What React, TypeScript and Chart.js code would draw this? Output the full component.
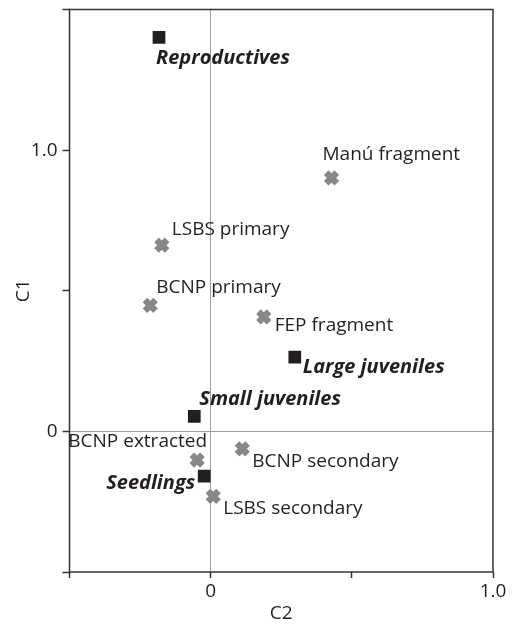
import React, { useEffect, useRef } from "react";
import { Chart, registerables } from "chart.js";

Chart.register(...registerables);

// Developmental stages (black squares)
const stageNames = ["Reproductives", "Large juveniles", "Small juveniles", "Seedlings"];
const stageC2 = [-0.183, 0.298, -0.058, -0.023];
const stageC1 = [1.401, 0.264, 0.053, -0.159];

// Sites (grey crosses)
const siteNames = [
  "Manú fragment",
  "LSBS primary",
  "BCNP primary",
  "FEP fragment",
  "BCNP extracted",
  "LSBS secondary",
  "BCNP secondary",
];
const siteC2 = [0.428, -0.173, -0.214, 0.188, -0.048, 0.009, 0.112];
const siteC1 = [0.901, 0.662, 0.448, 0.407, -0.102, -0.231, -0.062];

// Axis tick labels
const xTickLabels: Record<string, string> = { "0": "0", "1": "1.0" };
const yTickLabels: Record<string, string> = { "0": "0", "1": "1.0" };

// Label placement (pixel offsets from the marker), styling only
const stageLabelPlacement = [
  { dx: -3, dy: 21, align: "left" },
  { dx: 8, dy: 10, align: "left" },
  { dx: 5, dy: -17, align: "left" },
  { dx: -9, dy: 7, align: "right" },
];
const siteLabelPlacement = [
  { dx: -9, dy: -23, align: "left" },
  { dx: 10, dy: -16, align: "left" },
  { dx: 6, dy: -18, align: "left" },
  { dx: 11, dy: 9, align: "left" },
  { dx: 10, dy: -18, align: "right" },
  { dx: 10, dy: 12, align: "left" },
  { dx: 10, dy: 13, align: "left" },
];

const FONT = "'Open Sans', 'Noto Sans', sans-serif";
const TEXT = "#231f20";

const labelPlugin = {
  id: "pointLabels",
  afterDatasetsDraw(chart: any) {
    const { ctx } = chart;
    const xs = chart.scales.x;
    const ys = chart.scales.y;
    ctx.save();
    ctx.fillStyle = TEXT;
    ctx.textBaseline = "middle";
    stageNames.forEach((name, i) => {
      const p = stageLabelPlacement[i];
      ctx.font = `italic bold 20px ${FONT}`;
      ctx.textAlign = p.align;
      ctx.fillText(name, xs.getPixelForValue(stageC2[i]) + p.dx, ys.getPixelForValue(stageC1[i]) + p.dy);
    });
    siteNames.forEach((name, i) => {
      const p = siteLabelPlacement[i];
      ctx.font = `19px ${FONT}`;
      ctx.textAlign = p.align;
      ctx.fillText(name, xs.getPixelForValue(siteC2[i]) + p.dx, ys.getPixelForValue(siteC1[i]) + p.dy);
    });
    ctx.restore();
  },
};

const framePlugin = {
  id: "frame",
  afterDatasetsDraw(chart: any) {
    const { ctx, chartArea } = chart;
    ctx.save();
    ctx.strokeStyle = "#333333";
    ctx.lineWidth = 1.5;
    ctx.strokeRect(chartArea.left, chartArea.top, chartArea.right - chartArea.left, chartArea.bottom - chartArea.top);
    ctx.restore();
  },
};

export default function App() {
  const ref = useRef<HTMLCanvasElement>(null);

  useEffect(() => {
    document.body.style.margin = "0";
    const canvas = ref.current;
    if (!canvas) return;
    const chart = new Chart(canvas, {
      type: "scatter",
      data: {
        datasets: [
          {
            label: "Sites",
            data: siteC2.map((x, i) => ({ x, y: siteC1[i] })),
            pointStyle: "crossRot",
            radius: 7.5,
            borderWidth: 6.5,
            borderColor: "#878787",
            backgroundColor: "#878787",
          },
          {
            label: "Stages",
            data: stageC2.map((x, i) => ({ x, y: stageC1[i] })),
            pointStyle: "rect",
            radius: 9,
            borderWidth: 0,
            backgroundColor: TEXT,
            borderColor: TEXT,
          },
        ],
      },
      options: {
        responsive: false,
        animation: false,
        layout: { autoPadding: false, padding: { top: 9.5, right: 19, left: 0, bottom: 0 } },
        plugins: { legend: { display: false }, tooltip: { enabled: false } },
        scales: {
          x: {
            type: "linear",
            min: -0.5,
            max: 1.0,
            afterFit: (s: any) => {
              s.height = 53;
              s.paddingLeft = 0;
              s.paddingRight = 0;
            },
            ticks: {
              stepSize: 0.5,
              padding: 2,
              maxRotation: 0,
              color: TEXT,
              font: { family: FONT, size: 19 },
              callback: (v: any) => xTickLabels[String(v)] ?? "",
            },
            grid: {
              color: (c: any) => (c.tick && c.tick.value === 0 ? "#a0a0a0" : "rgba(0,0,0,0)"),
              lineWidth: 1,
              tickColor: "#333333",
              tickLength: 6,
              tickWidth: 1.5,
            },
            border: { display: false },
            title: {
              display: true,
              text: "C2",
              color: TEXT,
              font: { family: FONT, size: 19 },
              padding: { top: 0, bottom: 0 },
            },
          },
          y: {
            type: "linear",
            min: -0.5,
            max: 1.5,
            afterFit: (s: any) => {
              s.width = 69.5;
              s.paddingTop = 0;
              s.paddingBottom = 0;
            },
            ticks: {
              stepSize: 0.5,
              padding: 5,
              color: TEXT,
              font: { family: FONT, size: 19 },
              callback: (v: any) => yTickLabels[String(v)] ?? "",
            },
            grid: {
              color: (c: any) => (c.tick && c.tick.value === 0 ? "#a0a0a0" : "rgba(0,0,0,0)"),
              lineWidth: 1,
              tickColor: "#333333",
              tickLength: 7,
              tickWidth: 1.5,
            },
            border: { display: false },
            title: {
              display: true,
              text: "C1",
              color: TEXT,
              font: { family: FONT, size: 19 },
              padding: { top: 12, bottom: 0 },
            },
          },
        },
      },
      plugins: [framePlugin, labelPlugin],
    });
    return () => chart.destroy();
  }, []);

  return (
    <div style={{ position: "absolute", left: 0, top: 0, width: 512, height: 625 }}>
      <canvas ref={ref} width={512} height={625} />
    </div>
  );
}
